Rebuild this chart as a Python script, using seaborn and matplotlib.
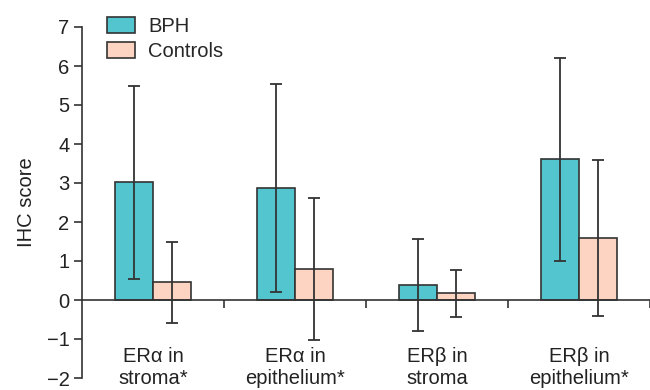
import numpy as np
import pandas as pd
import matplotlib
matplotlib.use('Agg')
import matplotlib.pyplot as plt
import seaborn as sns

# values
categories = ['ERα in\nstroma*', 'ERα in\nepithelium*', 'ERβ in\nstroma', 'ERβ in\nepithelium*']
groups = ['BPH', 'Controls']
bph_mean = [3.02, 2.88, 0.39, 3.61]
bph_sd = [2.48, 2.67, 1.18, 2.60]
ctrl_mean = [0.45, 0.79, 0.17, 1.60]
ctrl_sd = [1.05, 1.82, 0.60, 2.00]
y_ticks = [-2, -1, 0, 1, 2, 3, 4, 5, 6, 7]

df = pd.DataFrame({
    'Category': categories * 2,
    'Group': [groups[0]] * 4 + [groups[1]] * 4,
    'Score': bph_mean + ctrl_mean,
})

sns.set_style('ticks')
plt.rcParams['font.family'] = ['Liberation Sans', 'DejaVu Sans']
dark = '#333333'
fs = 14.5

fig = plt.figure(figsize=(6.5, 3.9), dpi=100)
ax = fig.add_axes([82 / 650, 12 / 390, 568 / 650, 351 / 390])

sns.barplot(data=df, x='Category', y='Score', hue='Group', order=categories,
            hue_order=groups, palette=['#52C5CE', '#FDD3C1'], width=0.535,
            edgecolor=dark, linewidth=1.2, errorbar=None, saturation=1, ax=ax)

# error bars (SD) centered on each bar
for cont, sd in zip(ax.containers, [bph_sd, ctrl_sd]):
    xs = [p.get_x() + p.get_width() / 2 for p in cont.patches]
    hs = [p.get_height() for p in cont.patches]
    ax.errorbar(xs, hs, yerr=sd, fmt='none', ecolor=dark, elinewidth=1.3,
                capsize=4.3, capthick=1.3, zorder=5)

ax.set_xlim(-0.5, 3.5)
ax.set_ylim(-2, 7)
ax.set_yticks(y_ticks)
ax.set_yticklabels(['\u22122', '\u22121'] + [str(t) for t in y_ticks[2:]])
ax.tick_params(axis='y', labelsize=fs, length=6, width=1.2, color=dark, labelcolor='#222222', pad=3)

# category separators as ticks, labels on minor ticks
ax.set_xticks([0.5, 1.5, 2.5, 3.5])
ax.set_xticklabels([])
ax.set_xticks(range(len(categories)), minor=True)
ax.set_xticklabels(categories, minor=True)
ax.tick_params(axis='x', which='major', length=6, width=1.2, color=dark, direction='out')
ax.tick_params(axis='x', which='minor', length=0, pad=34, labelsize=fs, labelcolor='#222222')
for lab in ax.get_xticklabels(minor=True):
    lab.set_linespacing(1.0)

sns.despine(ax=ax)
ax.spines['bottom'].set_position(('data', 0))
for s in ['left', 'bottom']:
    ax.spines[s].set_linewidth(1.2)
    ax.spines[s].set_color(dark)

ax.set_xlabel('')
ax.set_ylabel('IHC score', fontsize=fs, color='#222222', labelpad=8)

ax.legend(loc='upper left', bbox_to_anchor=(0.012, 1.08), frameon=False, fontsize=fs,
          handlelength=1.4, handleheight=0.8, labelspacing=0.3, handletextpad=0.65)

fig.savefig('out.png', dpi=100)
